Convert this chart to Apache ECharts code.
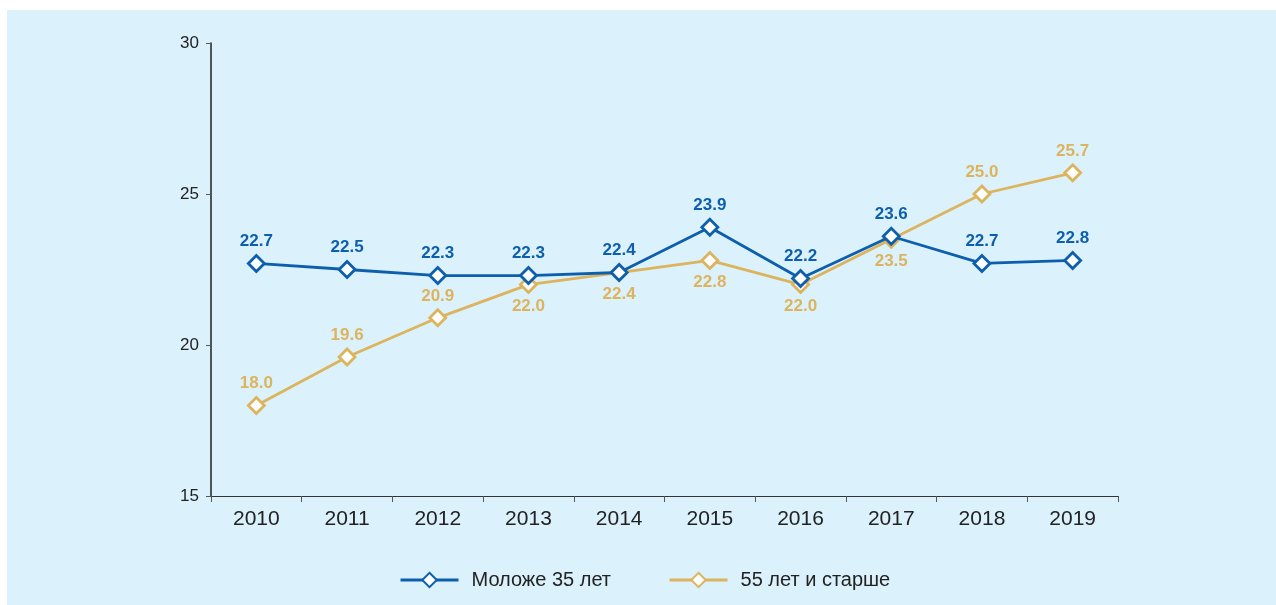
<!DOCTYPE html>
<html>
<head>
<meta charset="utf-8">
<script src="https://cdn.jsdelivr.net/npm/echarts@6/dist/echarts.min.js"></script>
<style>
  html, body { margin: 0; padding: 0; background: #ffffff; }
  #chart { position: absolute; left: 0; top: 0; width: 1276px; height: 605px; }
</style>
</head>
<body>
<div id="chart"></div>
<script>
const years = ['2010', '2011', '2012', '2013', '2014', '2015', '2016', '2017', '2018', '2019']
const young = [22.7, 22.5, 22.3, 22.3, 22.4, 23.9, 22.2, 23.6, 22.7, 22.8]
const old = [18.0, 19.6, 20.9, 22.0, 22.4, 22.8, 22.0, 23.5, 25.0, 25.7]
// where the gold labels sit under the point
const oldBelow = [false, false, false, true, true, true, true, true, false, false]
const seriesNames = ['Моложе 35 лет', '55 лет и старше']

const blue = '#0d5fae'
const gold = '#ddb45e'

let chart = echarts.init(document.getElementById('chart'))

function labelStyle (color) {
  return {
    show: true,
    color: color,
    fontFamily: '"Liberation Sans", Arial, sans-serif',
    fontWeight: 'bold',
    fontSize: 17,
    formatter: p => p.value.toFixed(1)
  }
}

chart.setOption({
  animation: false,
  backgroundColor: '#ffffff',
  graphic: [
    { type: 'rect', left: 7, top: 10, shape: { width: 1269, height: 595 }, style: { fill: '#dbf1fc' }, z: -10 }
  ],
  grid: { left: 211, right: 158, top: 43, bottom: 109 },
  legend: {
    top: 570,
    left: 399,
    padding: 0,
    itemWidth: 58,
    itemHeight: 18,
    itemGap: 57,
    lineStyle: { width: 3 },
    textStyle: { fontSize: 20, color: '#222', fontFamily: 'Liberation Sans, Arial, sans-serif', padding: [0, 0, 0, 8] },
    data: seriesNames
  },
  xAxis: {
    type: 'category',
    data: years,
    boundaryGap: true,
    axisLine: { lineStyle: { color: '#333', width: 1 } },
    axisTick: { show: true, length: 6, lineStyle: { color: '#555' } },
    axisLabel: { fontSize: 21, color: '#222', margin: 13, fontFamily: 'Liberation Sans, Arial, sans-serif' }
  },
  yAxis: {
    type: 'value',
    min: 15,
    max: 30,
    interval: 5,
    axisLine: { show: true, lineStyle: { color: '#222', width: 1.5 } },
    axisTick: { show: true, length: 5, lineStyle: { color: '#555' } },
    splitLine: { show: false },
    axisLabel: { fontSize: 17, color: '#222', margin: 12, fontFamily: 'Liberation Sans, Arial, sans-serif' }
  },
  series: [
    {
      name: seriesNames[1],
      type: 'line',
      data: old.map((v, i) => ({
        value: v,
        label: { position: oldBelow[i] ? 'bottom' : 'top', distance: 4 }
      })),
      color: gold,
      lineStyle: { width: 2.8, color: gold },
      symbol: 'diamond',
      symbolSize: [16, 16],
      itemStyle: { color: '#ffffff', borderColor: gold, borderWidth: 2.8 },
      label: labelStyle(gold),
      z: 2
    },
    {
      name: seriesNames[0],
      type: 'line',
      data: young,
      color: blue,
      lineStyle: { width: 2.8, color: blue },
      symbol: 'diamond',
      symbolSize: [16, 16],
      itemStyle: { color: '#ffffff', borderColor: blue, borderWidth: 2.8 },
      label: Object.assign(labelStyle(blue), { position: 'top', distance: 4 }),
      z: 3
    }
  ]
})
</script>
</body>
</html>
